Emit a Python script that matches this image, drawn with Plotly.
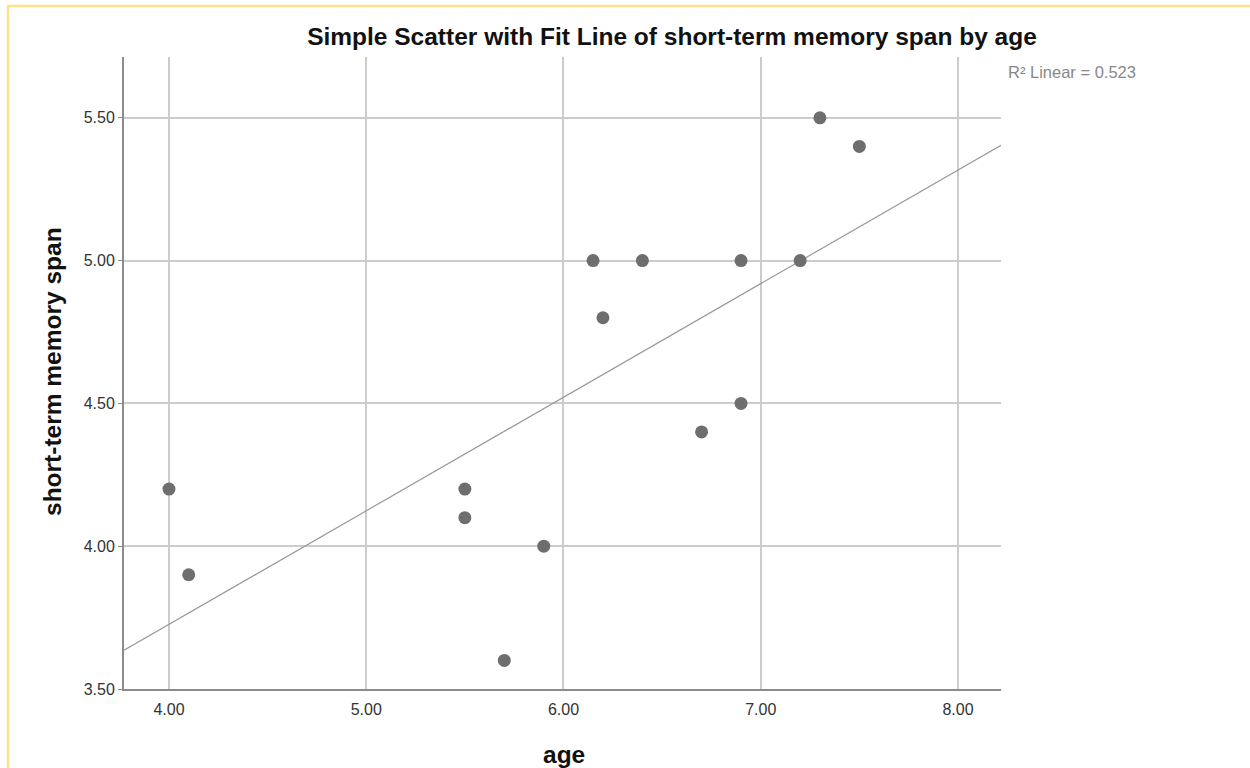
import numpy as np
import plotly.graph_objects as go

# Data
age = [4.0, 4.1, 5.5, 5.5, 5.7, 5.9, 6.15, 6.2, 6.4, 6.7, 6.9, 6.9, 7.2, 7.3, 7.5]
span = [4.2, 3.9, 4.2, 4.1, 3.6, 4.0, 5.0, 4.8, 5.0, 4.4, 5.0, 4.5, 5.0, 5.5, 5.4]
x_ticks = [4.0, 5.0, 6.0, 7.0, 8.0]
y_ticks = [3.5, 4.0, 4.5, 5.0, 5.5]
x_range = [3.772, 8.218]
y_range = [3.5, 5.713]
r2_label = "R² Linear = 0.523"

slope, intercept = np.polyfit(age, span, 1)
fit_x = np.array(x_range)
fit_y = slope * fit_x + intercept

W, H = 1250, 768
L, R, T, B = 124, 249, 57, 79
pw, ph = W - L - R, H - T - B

def px_x(p):
    return (p - L) / pw

def px_y(p):
    return 1 - (p - T) / ph

FONT = "Liberation Sans, Arial, sans-serif"

fig = go.Figure()
fig.add_trace(go.Scatter(x=fit_x, y=fit_y, mode="lines",
                         line=dict(color="#999999", width=1.2),
                         hoverinfo="skip", showlegend=False))
fig.add_trace(go.Scatter(x=age, y=span, mode="markers",
                         marker=dict(color="#6e6e6e", size=13, line=dict(width=0)),
                         showlegend=False))

fig.update_layout(
    width=W, height=H,
    margin=dict(l=L, r=R, t=T, b=B),
    paper_bgcolor="white", plot_bgcolor="white",
    font=dict(family=FONT, color="#333333", size=16),
    title=dict(text="<b>Simple Scatter with Fit Line of short-term memory span by age</b>",
               xref="container", x=672 / W, xanchor="center",
               yref="container", y=1 - 36 / H, yanchor="middle",
               font=dict(size=24.5, color="#111111", family=FONT)),
    xaxis=dict(range=x_range, tickvals=x_ticks, ticktext=[f"{v:.2f}" for v in x_ticks],
               showgrid=True, gridcolor="#cccccc", gridwidth=1.5,
               showline=True, linecolor="#8c8c8c", linewidth=2,
               ticks="", zeroline=False, ticklabelstandoff=5,
               tickfont=dict(size=16, color="#333333")),
    yaxis=dict(range=y_range, tickvals=y_ticks, ticktext=[f"{v:.2f}" for v in y_ticks],
               showgrid=True, gridcolor="#cccccc", gridwidth=1.5,
               showline=True, linecolor="#8c8c8c", linewidth=2,
               ticks="outside", ticklen=4, tickcolor="#8c8c8c", zeroline=False,
               tickfont=dict(size=16, color="#333333")),
    annotations=[
        dict(text="<b>age</b>", x=px_x(564), y=px_y(754), xref="paper", yref="paper",
             showarrow=False, xanchor="center", yanchor="middle",
             font=dict(size=24.5, color="#111111", family=FONT)),
        dict(text="<b>short-term memory span</b>", x=px_x(52), y=px_y(372), xref="paper", yref="paper",
             showarrow=False, xanchor="center", yanchor="middle", textangle=-90,
             font=dict(size=24.5, color="#111111", family=FONT)),
        dict(text=r2_label, x=px_x(1006), y=px_y(72), xref="paper", yref="paper",
             showarrow=False, xanchor="left", yanchor="middle",
             font=dict(size=16.5, color="#888888", family=FONT)),
    ],
    shapes=[
        dict(type="rect", xref="paper", yref="paper",
             x0=px_x(8), x1=px_x(1262), y0=px_y(6), y1=px_y(790),
             line=dict(color="#fbe38a", width=2.5), layer="below"),
    ],
)

fig.write_html("out.html",
               config={"displayModeBar": False},
               post_script="document.body.style.margin='0px';document.body.style.overflow='hidden';")
